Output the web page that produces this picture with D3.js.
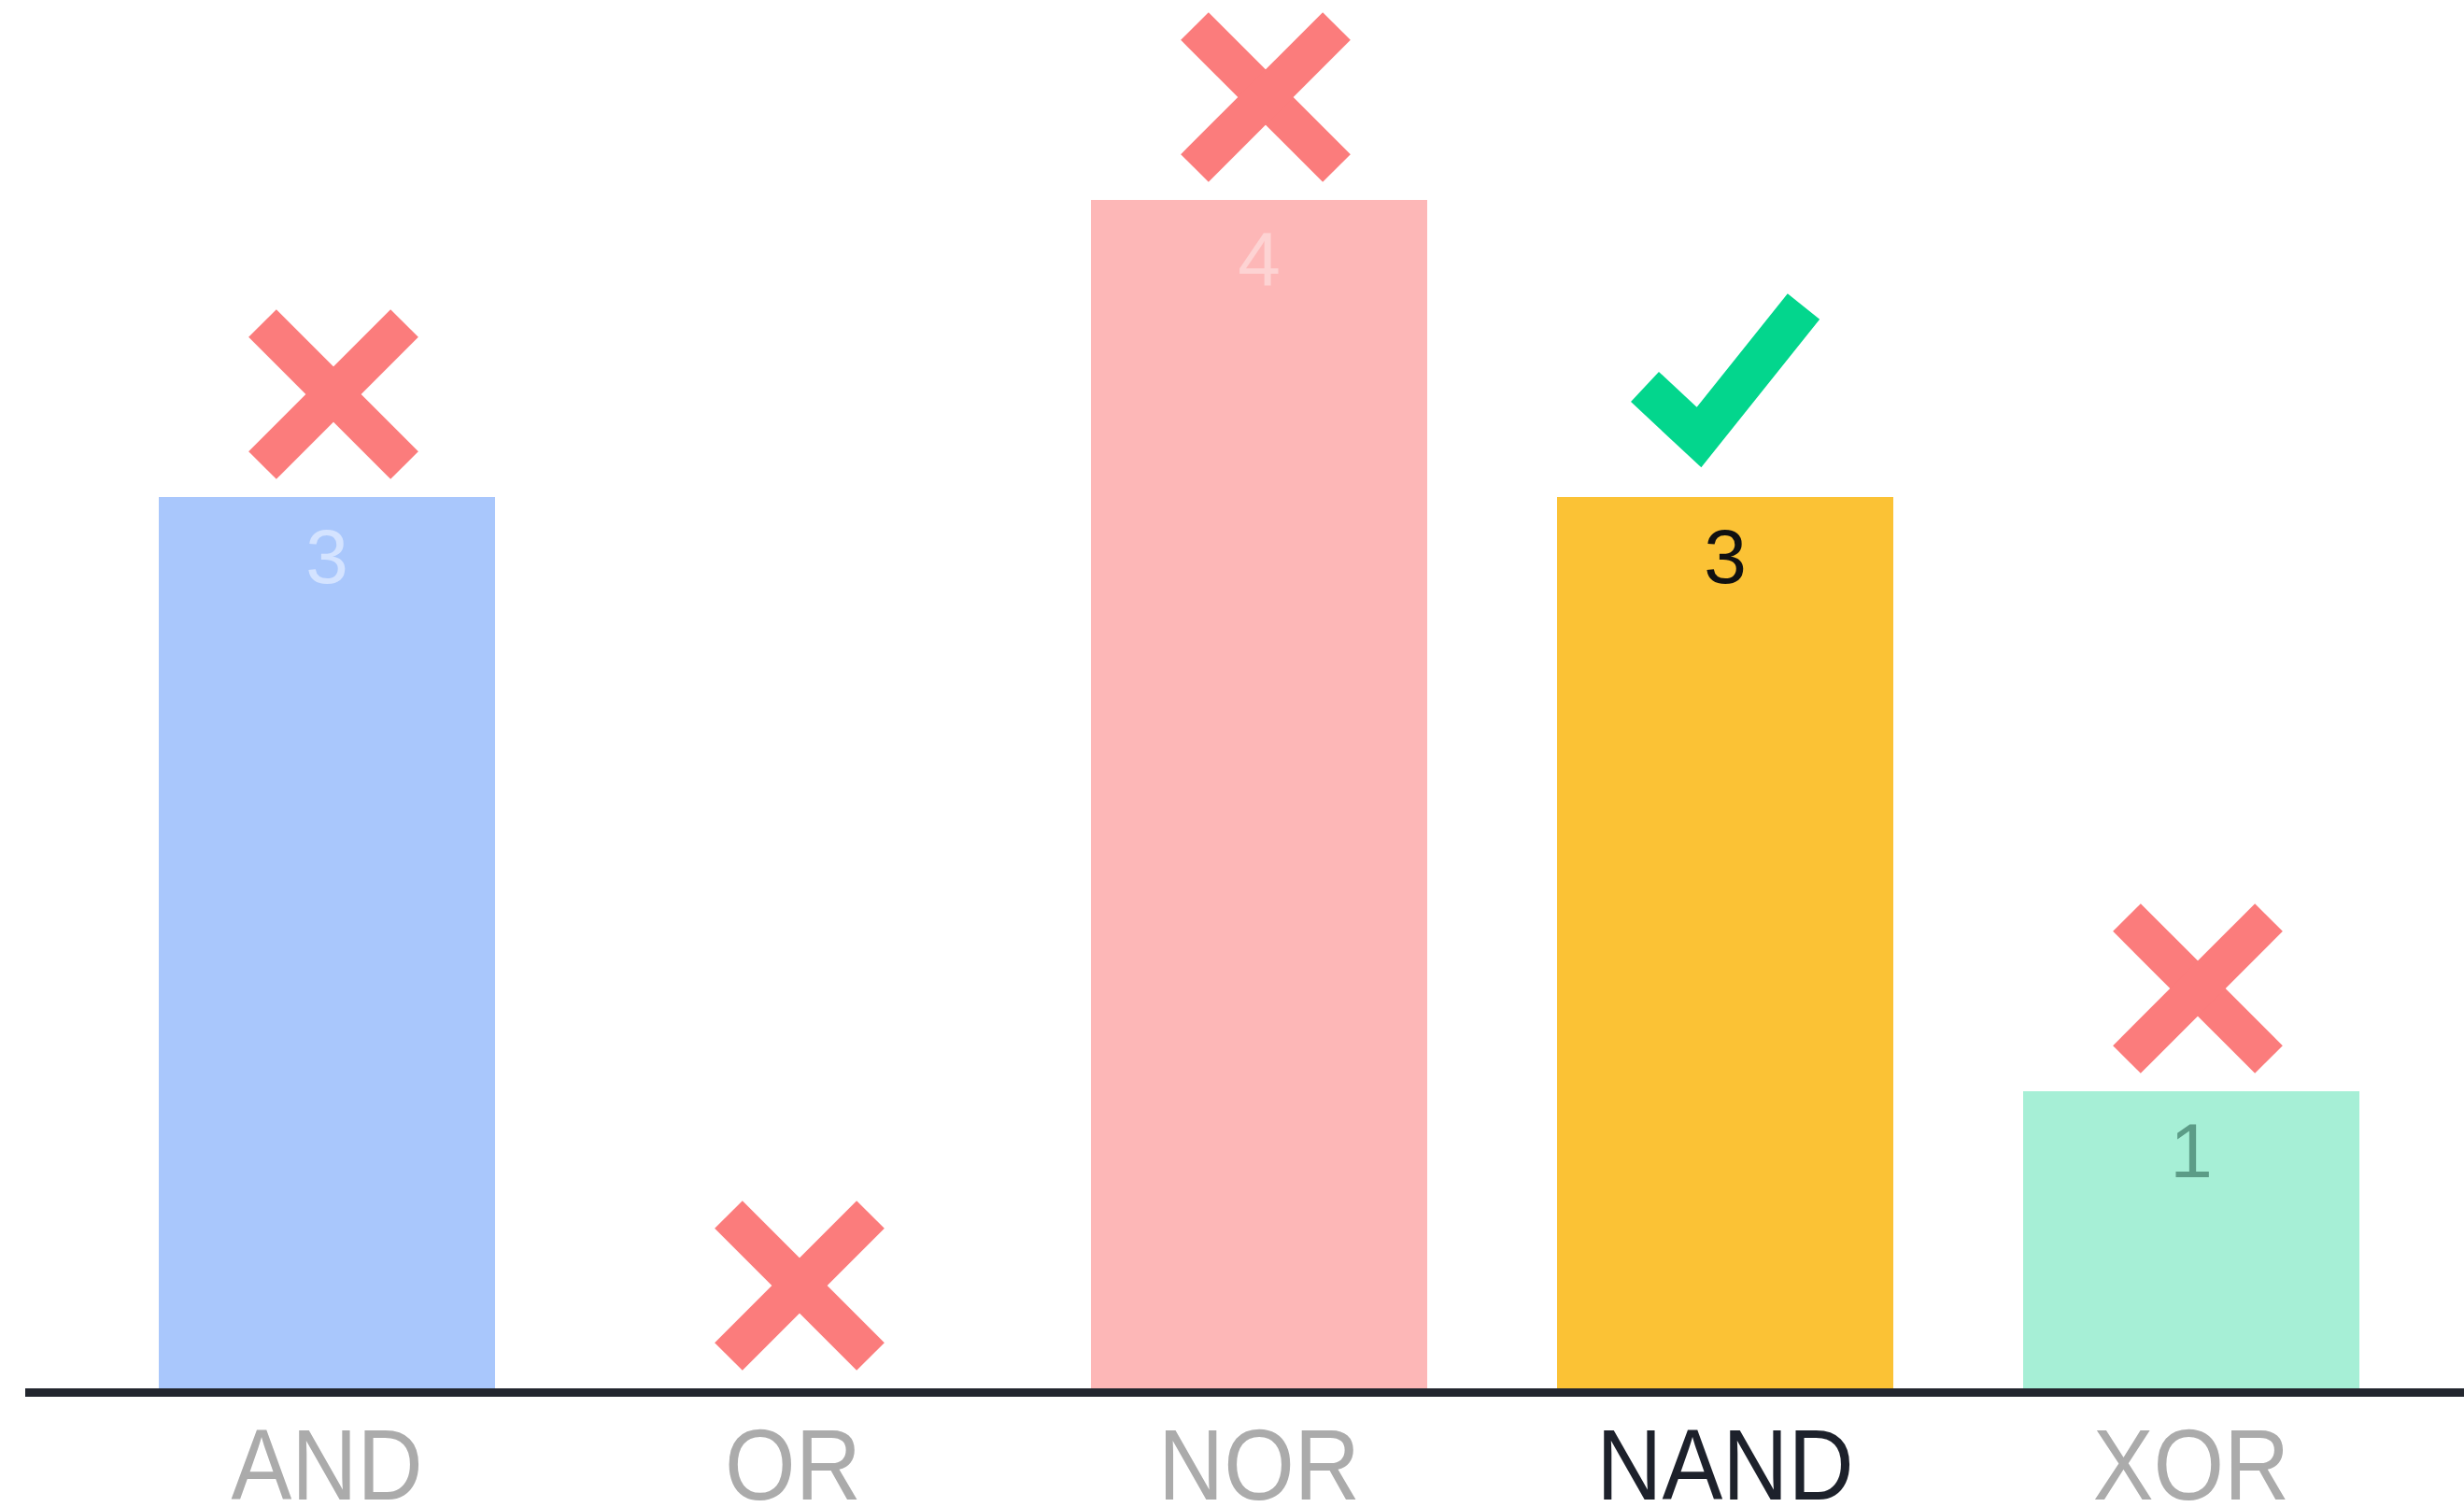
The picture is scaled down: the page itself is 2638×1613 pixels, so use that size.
<!DOCTYPE html>
<html>
<head>
<meta charset="utf-8">
<script src="https://cdn.jsdelivr.net/npm/d3@7"></script>
<style>
  html, body { margin: 0; padding: 0; background: #ffffff; }
  svg { display: block; }
</style>
</head>
<body>
<svg id="chart" width="2638" height="1613"></svg>
<script>
// ---- data ----
const categories = ["AND", "OR", "NOR", "NAND", "XOR"];
const values = [3, 0, 4, 3, 1];
const answers = ["wrong", "wrong", "wrong", "right", "wrong"];
const highlighted = "NAND";

// ---- styles ----
const barColors = ["#a9c7fc", "#a9c7fc", "#fdb7b7", "#fbc235", "#a6efd6"];
const valueColors = ["#d4e3ff", "#d4e3ff", "#fdd3d3", "#111111", "#5c9c87"];
const crossColor = "#fb7c7c";
const checkColor = "#03d68d";

const W = 2638, H = 1613;
const svg = d3.select("#chart");

const x = d3.scaleBand()
  .domain(categories)
  .range([170, 2526])
  .paddingInner(139 / 499)
  .paddingOuter(0);

const y = d3.scaleLinear()
  .domain([0, 4])
  .range([1486, 214]);

const data = categories.map((c, i) => ({ cat: c, value: values[i], answer: answers[i], i }));

// bars
svg.append("g").selectAll("rect")
  .data(data.filter(d => d.value > 0))
  .join("rect")
  .attr("x", d => x(d.cat))
  .attr("y", d => y(d.value))
  .attr("width", x.bandwidth())
  .attr("height", d => y(0) - y(d.value))
  .attr("fill", d => barColors[d.i]);

// value labels
svg.append("g").selectAll("text")
  .data(data.filter(d => d.value > 0))
  .join("text")
  .attr("x", d => x(d.cat) + x.bandwidth() / 2)
  .attr("y", d => y(d.value) + 92)
  .attr("text-anchor", "middle")
  .attr("font-family", "'Liberation Sans', Arial, sans-serif")
  .attr("font-size", 82)
  .attr("fill", d => valueColors[d.i])
  .text(d => d.value);

// baseline
svg.append("line")
  .attr("x1", 27).attr("x2", W)
  .attr("y1", 1490.5).attr("y2", 1490.5)
  .attr("stroke", "#23272f")
  .attr("stroke-width", 9);

// category axis
const axis = d3.axisBottom(x).tickSize(0).tickPadding(38);
const gAxis = svg.append("g")
  .attr("transform", "translate(0,1490)")
  .call(axis);
gAxis.select(".domain").remove();
gAxis.selectAll("text")
  .attr("font-family", "'Liberation Sans', Arial, sans-serif")
  .attr("font-size", 108)
  .attr("transform", "scale(0.9,1)")
  .attr("fill", d => d === highlighted ? "#1d212b" : "#ababab");

// answer marks
const marks = svg.append("g");
data.forEach(d => {
  const cx = x(d.cat) + x.bandwidth() / 2;
  const top = y(d.value);
  if (d.answer === "wrong") {
    const mx = cx + 7, my = top - 110, r = 76;
    const g = marks.append("g")
      .attr("stroke", crossColor)
      .attr("stroke-width", 42)
      .attr("stroke-linecap", "butt");
    g.append("line").attr("x1", mx - r).attr("y1", my - r).attr("x2", mx + r).attr("y2", my + r);
    g.append("line").attr("x1", mx - r).attr("y1", my + r).attr("x2", mx + r).attr("y2", my - r);
  } else {
    const pts = [[-86, -118], [-28, -64], [84, -204]].map(p => [cx + p[0], top + p[1]]);
    marks.append("path")
      .attr("d", d3.line()(pts))
      .attr("fill", "none")
      .attr("stroke", checkColor)
      .attr("stroke-width", 44)
      .attr("stroke-linecap", "butt")
      .attr("stroke-linejoin", "miter");
  }
});
</script>
</body>
</html>
